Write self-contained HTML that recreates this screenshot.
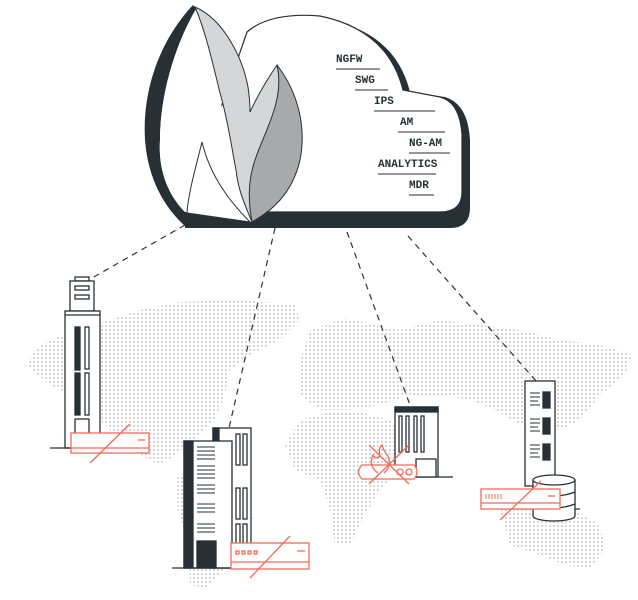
<!DOCTYPE html>
<html><head><style>body{margin:0;background:#fff}svg{display:block}</style></head><body>
<svg width="638" height="600" viewBox="0 0 638 600" xmlns="http://www.w3.org/2000/svg">
<defs>
<pattern id="d" width="4" height="4" patternUnits="userSpaceOnUse"><rect x="1" y="1" width="2" height="2" fill="#d6d6d6"/></pattern>
</defs>
<g fill="url(#d)">
<path d="M25 365 L40 345 L75 330 L110 320 L140 310 L180 302 L240 300 L295 305 L300 320 L280 340 L250 355 L230 370 L225 395 L215 420 L195 440 L175 455 L160 465 L140 455 L110 430 L80 400 L50 385 Z"/>
<path d="M176 475 L215 470 L250 490 L254 520 L240 545 L225 570 L205 588 L190 585 L188 545 L178 510 Z"/>
<path d="M300 360 L310 330 L345 318 L400 330 L440 320 L480 325 L520 330 L560 340 L600 345 L632 355 L625 375 L600 395 L580 420 L560 430 L520 425 L495 410 L470 400 L440 395 L410 395 L380 405 L350 410 L320 410 L300 395 Z"/>
<path d="M285 445 L300 420 L330 412 L360 412 L390 420 L410 440 L400 470 L380 490 L365 515 L350 545 L335 545 L330 510 L320 480 L295 470 Z"/>
<path d="M500 510 L540 505 L575 510 L600 525 L605 550 L590 568 L565 565 L540 555 L510 545 Z"/>
</g>
<g stroke="#333" stroke-width="1.2" stroke-dasharray="6,5" fill="none">
<line x1="185" y1="225" x2="92" y2="278"/>
<line x1="275" y1="228" x2="229" y2="428"/>
<line x1="347" y1="232" x2="410" y2="405"/>
<line x1="408" y1="236" x2="537" y2="382"/>
</g>
<!-- cloud shadow -->
<path d="M185 212 L185 228 L450 228 Q470 228 470 208 L470 140 Q468 104 445 97 L410 92 Q395 30 320 18 Q270 14 247 32 Z" fill="#263035"/>
<path d="M185 212 L440 212 Q462 212 462 192 L462 135 Q460 102 440 97 L403 90 Q388 30 320 16 Q270 12 247 32 L185 212 Z" fill="#fff" stroke="#263035" stroke-width="1.2"/>
<!-- left dark lobe -->
<path d="M193 5 C160 40 142 90 145 140 C148 180 165 208 185 226 L252 226 L252 212 L185 212 C168 195 158 170 160 140 C160 95 175 45 196 9 Z" fill="#263035"/>
<path d="M196 9 C175 45 160 95 160 140 C158 170 168 195 185 212 L252 222 Z" fill="#fff"/>
<!-- light flame -->
<path d="M195 7 C225 20 243 60 248 87 C250 100 250 106 250 112 C258 95 268 78 277 65 C287 100 270 140 258 175 C252 195 252 210 252 222 C245 205 238 190 236 170 C232 150 228 120 220 93 C212 60 205 30 195 7 Z" fill="#d4d6d7" stroke="#263035" stroke-width="1"/>
<!-- mid flame -->
<path d="M277 65 C300 95 306 130 300 160 C292 195 270 212 252 222 C248 200 248 180 255 160 C265 130 285 100 277 65 Z" fill="#a7a9aa" stroke="#263035" stroke-width="1"/>
<!-- small white flame -->
<path d="M202 142 C195 170 188 195 187 213 L250 222 C228 200 210 175 202 142 Z" fill="#fff" stroke="#263035" stroke-width="1"/>
<g font-family="Liberation Mono, monospace" font-size="11" font-weight="bold" fill="#263035">
<text x="336" y="62">NGFW</text><text x="355" y="83">SWG</text><text x="374" y="104">IPS</text>
<text x="400" y="125">AM</text><text x="409" y="146">NG-AM</text><text x="378" y="167">ANALYTICS</text><text x="409" y="188">MDR</text>
</g>
<g stroke="#263035" stroke-width="1">
<line x1="336" y1="69" x2="380" y2="69"/><line x1="355" y1="90" x2="388" y2="90"/><line x1="374" y1="111" x2="435" y2="111"/>
<line x1="398" y1="132" x2="445" y2="132"/><line x1="409" y1="153" x2="450" y2="153"/><line x1="378" y1="174" x2="436" y2="174"/><line x1="409" y1="195" x2="434" y2="195"/>
</g>
<!-- building 1 -->
<g stroke="#263035" stroke-width="1.3" fill="#fff">
<rect x="75" y="277" width="14" height="4"/><rect x="70" y="281" width="24" height="30"/>
<rect x="75" y="286" width="14" height="4"/><rect x="75" y="295" width="14" height="4"/>
<rect x="65" y="311" width="35" height="137"/><line x1="65" y1="315" x2="100" y2="315"/>
<rect x="75" y="327" width="5" height="43" fill="#263035"/><rect x="85" y="327" width="4" height="42"/>
<rect x="75" y="373" width="5" height="42" fill="#263035"/><rect x="85" y="373" width="4" height="42"/>
<rect x="75" y="419" width="14" height="29"/><line x1="50" y1="448" x2="70" y2="448"/>
</g>
<g stroke="#f26b5a" stroke-width="1.3" fill="#fff"><rect x="71" y="433" width="78" height="20"/><line x1="71" y1="448" x2="149" y2="448"/><line x1="138" y1="440" x2="145" y2="440"/><line x1="90" y1="463" x2="130" y2="424"/></g>
<!-- building 2 -->
<g stroke="#263035" stroke-width="1.3" fill="#fff">
<rect x="213" y="428" width="38" height="140"/><rect x="213" y="428" width="6" height="14" fill="#263035"/>
<rect x="236" y="434" width="4" height="31"/><rect x="243" y="434" width="4" height="31"/>
<rect x="236" y="488" width="4" height="31"/><rect x="243" y="488" width="4" height="31"/>
<rect x="236" y="524" width="4" height="30"/><rect x="243" y="524" width="4" height="30"/>
<rect x="184" y="441" width="48" height="127"/><rect x="184" y="441" width="9" height="127" fill="#263035"/>
<rect x="197" y="541" width="19" height="27" fill="#263035"/><line x1="172" y1="568" x2="232" y2="568"/>
</g>
<g stroke="#263035" stroke-width="1">
<path d="M197 447h18M197 451h18M197 455h18M197 459h18M197 466h18M197 470h18M197 474h18M197 478h18M197 485h18M197 489h18M197 493h18M197 504h18M197 508h18M197 512h18M197 524h18M197 528h18M197 532h18"/>
</g>
<g stroke="#f26b5a" stroke-width="1.3" fill="#fff"><rect x="231" y="543" width="78" height="26"/><line x1="231" y1="562" x2="309" y2="562"/>
<rect x="236" y="551" width="3" height="3"/><rect x="242" y="551" width="3" height="3"/><rect x="248" y="551" width="3" height="3"/><rect x="254" y="551" width="3" height="3"/>
<line x1="297" y1="551" x2="305" y2="551"/><line x1="250" y1="578" x2="290" y2="536"/></g>
<!-- building 3 -->
<g stroke="#263035" stroke-width="1.3" fill="#fff">
<rect x="395" y="407" width="43" height="70"/><rect x="395" y="407" width="43" height="5" fill="#263035"/>
<rect x="399" y="416" width="3" height="36"/><rect x="406" y="416" width="3" height="36"/><rect x="414" y="416" width="3" height="36"/><rect x="421" y="416" width="3" height="36"/>
<rect x="416" y="459" width="20" height="18"/><line x1="438" y1="477" x2="453" y2="477"/>
</g>
<g stroke="#f26b5a" stroke-width="1.3" fill="#fff">
<path d="M362 465 L414 465 Q420 472 414 479 L362 479 Q355 472 362 465 Z"/>
<circle cx="400" cy="472" r="3"/><circle cx="409" cy="472" r="3"/>
<path d="M378 473 Q368 466 373 455 Q376 460 380 456 Q378 448 382 445 Q384 452 388 456 Q392 466 384 473" fill="none"/>
<line x1="369" y1="445" x2="409" y2="484"/><line x1="409" y1="445" x2="369" y2="484"/>
</g>
<!-- building 4 -->
<g stroke="#263035" stroke-width="1.3" fill="#fff">
<rect x="525" y="381" width="30" height="105"/>
<rect x="543" y="392" width="7" height="16" fill="#263035"/><rect x="543" y="418" width="7" height="16" fill="#263035"/><rect x="543" y="444" width="7" height="16" fill="#263035"/>
<ellipse cx="554" cy="516" rx="21" ry="5"/><rect x="533" y="480" width="42" height="36" stroke="none"/>
<path d="M533 480v36M575 480v36M533 492q21 8 42 0M533 504q21 8 42 0"/>
<ellipse cx="554" cy="480" rx="21" ry="5"/><line x1="575" y1="509" x2="580" y2="509"/>
</g>
<g stroke="#263035" stroke-width="1"><path d="M530 393h10M530 397h10M530 401h8M530 405h10M530 419h10M530 423h10M530 427h8M530 431h10M530 445h10M530 449h10M530 453h8M530 457h10"/></g>
<g stroke="#f26b5a" stroke-width="1.3" fill="#fff"><rect x="481" y="489" width="79" height="20"/><line x1="481" y1="503" x2="560" y2="503"/>
<path d="M486 494v5M489 494v5M492 494v5M495 494v5M498 494v5M501 494v5" stroke-width="1"/><line x1="548" y1="496" x2="555" y2="496"/><line x1="500" y1="520" x2="541" y2="481"/></g>
</svg>
</body></html>
